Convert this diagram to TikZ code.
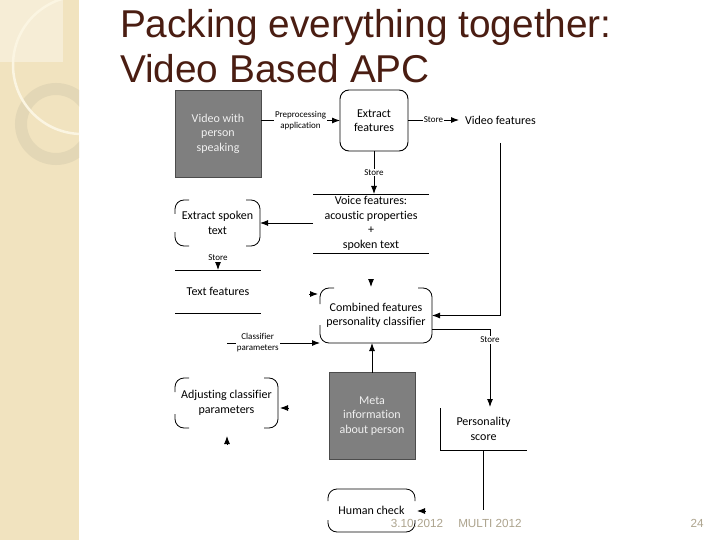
\documentclass[tikz,border=0pt]{standalone}
\usepackage{fontspec}
\setmainfont{Carlito}[Ligatures=NoCommon]
\newfontfamily\arialfont{Liberation Sans}
\usetikzlibrary{arrows.meta,calc}
\definecolor{titlebrown}{HTML}{4A1D12}
\definecolor{sidebar}{HTML}{F1E3BF}
\definecolor{sidelight}{HTML}{F6EDD6}
\definecolor{ringcol}{HTML}{E3D7B6}
\definecolor{circwhite}{HTML}{FBF5E2}
\definecolor{boxgray}{HTML}{7F7F7F}
\definecolor{footcol}{HTML}{ADA48E}
\begin{document}
\begin{tikzpicture}[x=1pt,y=-1pt,
  every node/.style={inner sep=0pt, outer sep=0pt, align=center},
  main/.style={font=\fontsize{12}{14.5}\selectfont},
  lbl/.style={font=\fontsize{9}{11}\selectfont, fill=white, inner sep=1pt},
  darkbox/.style={main, fill=boxgray, draw=black!70, line width=0.8pt, text=black!6, minimum width=86pt, minimum height=87pt},
  flow/.style={line width=0.9pt, -{Latex[length=8pt,width=6pt]}},
  plainline/.style={line width=0.9pt},
  headonly/.style={line width=0.9pt, -{Latex[length=8pt,width=6pt]}},
  pbox/.style={line width=0.8pt, rounded corners=9pt},
  foot/.style={font=\arialfont\fontsize{11.7}{13}\selectfont, text=footcol},
  ttl/.style={anchor=base west, font=\arialfont\fontsize{38.8}{46}\selectfont, text=titlebrown}
]
\useasboundingbox (0,0) rectangle (720,540);
\fill[white] (0,0) rectangle (720,540);
% sidebar
\fill[sidebar] (0,0) rectangle (79,540);
\fill[sidelight] (0,0) rectangle (63,62);
\begin{scope}
  \clip (0,0) rectangle (79,540);
  \draw[ringcol, line width=12pt] (56,124) circle (35);
  \draw[circwhite, line width=2.5pt] (82,65) circle (69);
\end{scope}
% title
\node[ttl] (t1) at (120,38) {Packing everything together:};
\node[ttl] (t2) at (120,83) {Video Based APC};
% nodes
\node[darkbox] (video) at (218,133.5) {Video with\\person\\speaking};
\node[main, draw, line width=0.9pt, rounded corners=9pt, minimum width=68pt, minimum height=61pt] (extract) at (374,120.5) {Extract\\features};
\node[main, anchor=west] (vidfeat) at (465,120) {Video features};
\node[main, minimum width=116pt, minimum height=59pt] (voice) at (371,223.5) {Voice features:\\acoustic properties\\+\\spoken text};
\node[main, minimum width=85pt, minimum height=46pt] (esp) at (217.5,223) {Extract spoken\\text};
\node[main, minimum width=86pt, minimum height=43pt] (textfeat) at (218,291.5) {Text features};
\node[main, minimum width=112pt, minimum height=55pt] (comb) at (376,315.5) {Combined features\\personality classifier};
\node[main, minimum width=103pt, minimum height=50pt] (adj) at (226.5,403) {Adjusting classifier\\parameters};
\node[darkbox] (meta) at (372,416) {Meta\\information\\about person};
\node[main, minimum width=87pt, minimum height=42pt] (pers) at (483.5,429) {Personality\\score};
\node[main, minimum width=87pt, minimum height=43pt] (human) at (371.5,510.5) {Human check};
% store-type outlines
\draw[plainline] (voice.north west) -- (voice.north east);
\draw[plainline] (voice.south west) -- (voice.south east);
\draw[plainline] (textfeat.north west) -- (textfeat.north east);
\draw[plainline] (textfeat.south west) -- (textfeat.south east);
\draw[plainline] (pers.north west) -- (pers.south west) -- (pers.south east);
% partial rounded outlines
\draw[pbox] ($(esp.north west)+(0,14)$) |- ($(esp.north west)+(14,0)$);
\draw[pbox] ($(esp.south west)+(0,-14)$) |- ($(esp.south west)+(14,0)$);
\draw[pbox] ($(esp.north east)+(-14,0)$) -- (esp.north east) -- (esp.south east) -- ($(esp.south east)+(-14,0)$);
\draw[pbox] ($(adj.north west)+(0,14)$) |- ($(adj.north west)+(14,0)$);
\draw[pbox] ($(adj.south west)+(0,-14)$) |- ($(adj.south west)+(14,0)$);
\draw[pbox] ($(adj.north east)+(-14,0)$) -- (adj.north east) -- (adj.south east) -- ($(adj.south east)+(-14,0)$);
\draw[pbox] ($(comb.north west)+(0,16)$) |- ($(comb.north west)+(14,0)$);
\draw[pbox] ($(comb.north east)+(-14,0)$) -- (comb.north east) -- (comb.south east) -- (comb.south west) -- ($(comb.south west)+(0,-18)$);
\draw[pbox] ($(human.north west)+(0,12)$) -- (human.north west) -- (human.north east) -- ($(human.north east)+(0,12)$);
\draw[pbox] ($(human.south west)+(0,-12)$) -- (human.south west) -- (human.south east) -- ($(human.south east)+(0,-12)$);
% connectors
\draw[flow] (video.east |- extract.west) -- node[lbl]{Preprocessing\\application} (extract.west);
\coordinate (vfin) at ($(vidfeat.west)+(-6,0)$);
\draw[flow] (extract.east |- vfin) -- node[lbl]{Store} (vfin);
\draw[flow] (extract.south) -- node[lbl]{Store} (extract.south |- voice.north);
\coordinate (vfout) at (500,143);
\draw[flow] (vfout) |- (comb.east);
\draw[flow] (voice.west |- esp.east) -- (esp.east);
\node[lbl] (st2) at (218,258) {Store};
\coordinate (st2a) at (218,262);
\draw[headonly] (st2a) -- (st2a |- textfeat.north);
\coordinate (a1) at (309,294);
\coordinate (a1e) at (318,294);
\draw[headonly] (a1) -- (a1e);
\coordinate (a2) at (371,279);
\draw[headonly] (a2) -- ($(a2 |- comb.north)+(0,-1)$);
\coordinate (cp) at (227,343);
\draw[flow] (cp) -- node[lbl, pos=0.33]{Classifier\\parameters} (comb.south west);
\coordinate (cs) at ($(comb.east)+(0,13.5)$);
\coordinate (sp) at (490,407);
\draw[flow] (cs) -| node[lbl, pos=0.57]{Store} (sp);
\draw[flow] (meta.north) -- (meta.north |- comb.south);
\coordinate (a3) at (289,408);
\coordinate (a3e) at (280,408);
\draw[headonly] (a3) -- (a3e);
\coordinate (a4) at (227,445);
\coordinate (a4e) at (227,436);
\draw[headonly] (a4) -- (a4e);
\coordinate (pe) at (483.5,510);
\draw[plainline] (pers.south) -- (pe);
\coordinate (a5) at (425,511);
\coordinate (a5e) at (417,511);
\draw[headonly] (a5) -- (a5e);
% footer
\node[foot] (fdate) at (417,523) {3.10.2012};
\node[foot] (fconf) at (490,523) {MULTI 2012};
\node[foot] (fpage) at (697,523) {24};
\end{tikzpicture}
\end{document}
